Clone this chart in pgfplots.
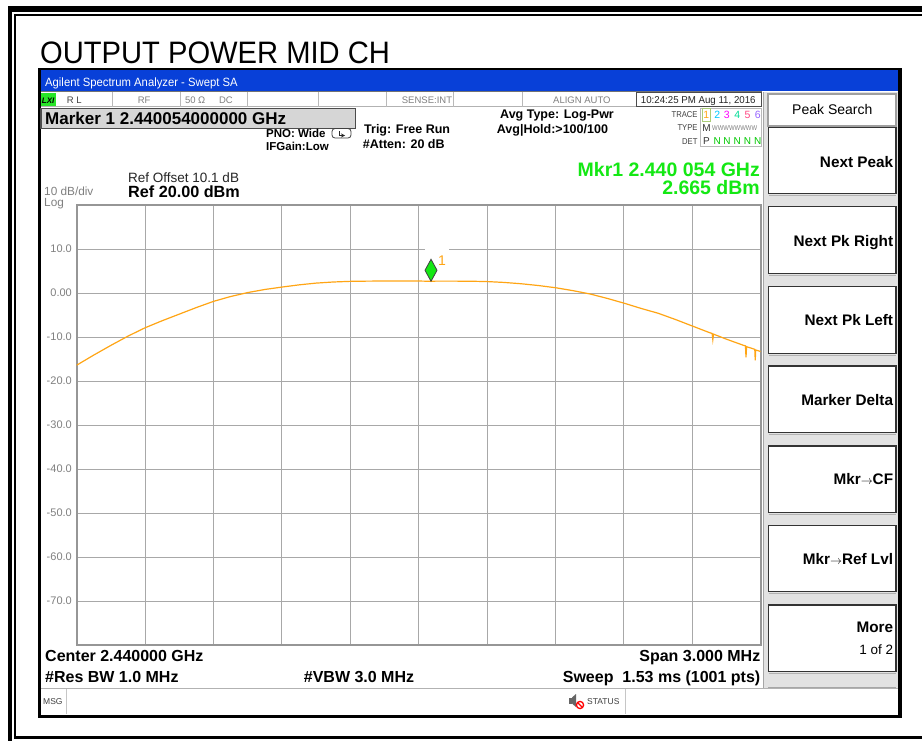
\documentclass[border=0pt]{standalone}
\usepackage{pgfplots}
\pgfplotsset{compat=1.18}
\usepackage{fontspec}
\setmainfont{Liberation Sans}
\newcommand\fs[1]{\fontsize{#1bp}{#1bp}\selectfont}
\definecolor{trace}{RGB}{255,165,20}
\definecolor{mkrgreen}{RGB}{20,232,20}
\definecolor{tickgray}{RGB}{128,128,128}
\definecolor{gridgray}{RGB}{168,168,168}
\definecolor{framegray}{RGB}{150,150,150}
\definecolor{xpA}{RGB}{8,64,216}
\definecolor{panelgray}{RGB}{226,226,226}
\definecolor{boxgray}{RGB}{214,214,214}
\definecolor{lxigreen}{RGB}{40,230,40}
\definecolor{tr1box}{RGB}{170,205,120}
\definecolor{tr2}{RGB}{0,200,255}
\definecolor{tr3}{RGB}{255,0,255}
\definecolor{tr4}{RGB}{0,220,150}
\definecolor{tr5}{RGB}{255,70,130}
\definecolor{tr6}{RGB}{150,100,255}
\definecolor{detgreen}{RGB}{0,200,0}
\begin{document}
\begin{tikzpicture}
\begin{scope}[x=1bp,y=-1bp]
\path[use as bounding box] (0,0) rectangle (922,741);
\fill[white] (0,0) rectangle (922,741);
% document frame
\fill[black] (8,6) rectangle (922,12);
\fill[black] (8,6) rectangle (12,741);
\fill[black] (14,14) rectangle (922,16);
\fill[black] (14,14) rectangle (16,739);
\fill[black] (14,736) rectangle (922,739);
% title
\node[anchor=base west, inner sep=0] at (40,64) {\fs{31}\scalebox{0.94}[1]{OUTPUT POWER MID CH}};
% window
\fill[black] (38,68) rectangle (902,718);
\fill[white] (41,70.5) rectangle (898,715);
\fill[xpA] (41,70.5) rectangle (898,91);
\node[anchor=base west, inner sep=0, text=white] at (45,87) {\fs{12}\scalebox{0.94}[1]{Agilent Spectrum Analyzer - Swept SA}};
% status row
\draw[black!55, line width=0.8] (41,91.8) -- (762,91.8);
\draw[gray!60, line width=0.8] (41,106.6) -- (762,106.6);
\foreach \xx in {112.6,180,247,318,386.3,453.3,522.7} {\draw[gray!55, line width=0.8] (\xx,92) -- (\xx,106.5);}
\draw[black!70, line width=0.8] (636,92.3) rectangle (761.7,106.3);
\fill[lxigreen] (41,92.5) rectangle (55.5,106);
\node[inner sep=0, anchor=base] at (48.2,103) {\fs{8}\bfseries\itshape LXI};
\node[anchor=base west, inner sep=0, text=black!75] at (66.8,103.4) {\fs{9.5}R L};
\node[anchor=base west, inner sep=0, text=gray] at (137.6,103.4) {\fs{9.5}RF};
\node[anchor=base west, inner sep=0, text=gray] at (184.8,103.4) {\fs{9.5}50 Ω};
\node[anchor=base west, inner sep=0, text=gray] at (218.8,103.4) {\fs{9.5}DC};
\node[anchor=base west, inner sep=0, text=gray] at (401.7,103.4) {\fs{9.5}SENSE:INT};
\node[anchor=base west, inner sep=0, text=gray] at (553,103.4) {\fs{9.5}ALIGN AUTO};
\node[anchor=base west, inner sep=0, text=black!85] at (640.7,103.4) {\fs{10}\scalebox{0.97}[1]{10:24:25 PM Aug 11, 2016}};
% header
\draw[fill=boxgray, draw=black!70, line width=1.2] (41,108.3) rectangle (355.6,128.3);
\node[anchor=base west, inner sep=0] at (45,124.2) {\fs{17}\bfseries Marker 1 2.440054000000 GHz};
\node[anchor=base west, inner sep=0] at (266,137.2) {\fs{11.5}\bfseries PNO: Wide};
\node[anchor=base west, inner sep=0] at (266,150.6) {\fs{11.5}\bfseries IFGain:Low};
\draw[black!75, line width=0.8, rounded corners=3] (332,128.5) rectangle (351,138);
\draw[black!85, line width=0.8, ->, >=stealth] (339,131) -- (339,135.5) -- (345,135.5);
\node[anchor=base west, inner sep=0] at (364,133.8) {\fs{12.5}\bfseries Trig: Free Run};
\node[anchor=base west, inner sep=0] at (362.7,148.2) {\fs{12.5}\bfseries \#Atten: 20 dB};
\node[anchor=base west, inner sep=0] at (500,118.8) {\fs{12.5}\bfseries Avg Type: Log-Pwr};
\node[anchor=base west, inner sep=0] at (496.7,133.5) {\fs{12.5}\bfseries Avg|Hold:>100/100};
% trace table
\draw[gray!55, line width=0.8] (700.7,108) rectangle (761.7,146);
\draw[tr1box, line width=0.8] (702,108.8) rectangle (710.5,121.5);
\node[anchor=base east, inner sep=0, text=black!75] at (697.7,117.5) {\fs{8.5}\scalebox{0.9}[1]{TRACE}};
\node[anchor=base east, inner sep=0, text=black!75] at (697.7,130.8) {\fs{8.5}\scalebox{0.9}[1]{TYPE}};
\node[anchor=base east, inner sep=0, text=black!75] at (697.7,144) {\fs{8.5}\scalebox{0.9}[1]{DET}};
\node[anchor=base, inner sep=0, text=trace] at (706.2,118.5) {\fs{10.5}1};
\node[anchor=base, inner sep=0, text=tr2] at (717.3,118.5) {\fs{10.5}2};
\node[anchor=base, inner sep=0, text=tr3] at (726.9,118.5) {\fs{10.5}3};
\node[anchor=base, inner sep=0, text=tr4] at (737.3,118.5) {\fs{10.5}4};
\node[anchor=base, inner sep=0, text=tr5] at (747.5,118.5) {\fs{10.5}5};
\node[anchor=base, inner sep=0, text=tr6] at (757.7,118.5) {\fs{10.5}6};
\node[anchor=base, inner sep=0, text=black!80] at (706.5,131.5) {\fs{10}M};
\node[anchor=base west, inner sep=0, text=gray] at (712,130.5) {\fs{7}\scalebox{0.85}[1]{WWWWWWWW}};
\node[anchor=base, inner sep=0, text=black!80] at (706.5,144.5) {\fs{10}P};
\foreach \xx in {717.3,726.9,737.3,747.5,757.7} {\node[anchor=base, inner sep=0, text=detgreen] at (\xx,144.5) {\fs{10}N};}
% marker readout
\node[anchor=base east, inner sep=0, text=mkrgreen] at (760,176) {\fs{19.5}\bfseries Mkr1 2.440 054 GHz};
\node[anchor=base east, inner sep=0, text=mkrgreen] at (760,194.5) {\fs{19.5}\bfseries 2.665 dBm};
\node[anchor=base west, inner sep=0, text=black!85] at (128,182) {\fs{13.5}Ref Offset 10.1 dB};
\node[anchor=base west, inner sep=0] at (128,197.4) {\fs{16.2}\bfseries Ref 20.00 dBm};
\node[anchor=base west, inner sep=0, text=tickgray] at (44,195.3) {\fs{11.8}10 dB/div};
\node[anchor=base west, inner sep=0, text=tickgray] at (44,206.6) {\fs{11.8}Log};
% bottom annotations
\node[anchor=base west, inner sep=0] at (45,661.7) {\fs{16}\bfseries Center 2.440000 GHz};
\node[anchor=base east, inner sep=0] at (760.5,661.7) {\fs{16}\bfseries Span 3.000 MHz};
\node[anchor=base west, inner sep=0] at (45,682.7) {\fs{16}\bfseries \#Res BW 1.0 MHz};
\node[anchor=base west, inner sep=0] at (303.7,682.7) {\fs{16}\bfseries \#VBW 3.0 MHz};
\node[anchor=base east, inner sep=0] at (760.5,682.7) {\fs{16}\bfseries Sweep\ \ 1.53 ms (1001 pts)};
% message row
\draw[gray!60, line width=0.8] (41,688.5) -- (898,688.5);
\draw[gray!45, line width=0.8] (66.7,689) -- (66.7,714);
\draw[gray!45, line width=0.8] (625.6,689) -- (625.6,714);
\node[anchor=base west, inner sep=0, text=black!75] at (43,704) {\fs{8.5}MSG};
\node[anchor=base west, inner sep=0, text=black!75] at (587,704) {\fs{8.5}STATUS};
\fill[black!60] (569,697.5) rectangle (572,703.5);
\fill[black!60] (572,697.5) -- (576,694) -- (576,707) -- (572,703.5) -- cycle;
\draw[red, line width=1.3] (580,705) circle (3.6);
\draw[red, line width=1.3] (577.5,702.5) -- (582.5,707.5);
% softkey panel
\fill[panelgray] (763,92) rectangle (898,688);
\draw[gray!70, line width=1] (763.5,92) -- (763.5,688);
\draw[fill=white, draw=gray!75, line width=1.2] (768,94) rectangle (896,126);
\node[anchor=base, inner sep=0] at (832.3,114.3) {\fs{14}Peak Search};
\foreach \yy in {127.3,206.7,286.7,366,446,525.3,605} {
  \draw[fill=white, draw=black!80, line width=1.3] (768.5,\yy) rectangle (896,\yy+66.5);
  \draw[gray!60, line width=0.8] (768.5,\yy+68.5) -- (896,\yy+68.5);
}
\draw[gray!70, line width=1] (768,687) -- (896,687);
\node[anchor=base east, inner sep=0] at (893.3,167.2) {\fs{15.3}\bfseries Next Peak};
\node[anchor=base east, inner sep=0] at (893.3,246.2) {\fs{15.3}\bfseries Next Pk Right};
\node[anchor=base east, inner sep=0] at (893.3,325.5) {\fs{15.3}\bfseries Next Pk Left};
\node[anchor=base east, inner sep=0] at (893.3,405.5) {\fs{15.3}\bfseries Marker Delta};
\node[anchor=base east, inner sep=0] at (893.3,484.8) {\fs{15.3}\bfseries Mkr{\fs{13}$\rightarrow$}CF};
\node[anchor=base east, inner sep=0] at (893.3,564.8) {\fs{15.3}\bfseries Mkr{\fs{13}$\rightarrow$}Ref Lvl};
\node[anchor=base east, inner sep=0] at (893.3,632.8) {\fs{15.3}\bfseries More};
\node[anchor=base east, inner sep=0] at (893.3,654.1) {\fs{13.5}1 of 2};
\end{scope}
\begin{axis}[
  at={(76.7bp,-205bp)}, anchor=north west,
  scale only axis, width=684bp, height=440bp,
  xmin=-1.5, xmax=1.5, ymin=-80, ymax=20,
  xtick={-1.5,-1.2,-0.9,-0.6,-0.3,0,0.3,0.6,0.9,1.2,1.5},
  xticklabels={},
  ytick={-70,-60,-50,-40,-30,-20,-10,0,10},
  yticklabels={-70.0,-60.0,-50.0,-40.0,-30.0,-20.0,-10.0,0.00,10.0},
  /pgf/number format/assume math mode=true,
  grid=major,
  grid style={draw=gridgray, line width=1bp},
  axis line style={draw=framegray, line width=2bp},
  major tick length=0pt,
  yticklabel style={font=\fs{11}, text=tickgray, inner sep=0pt, anchor=east, xshift=-4.7bp},
]
\addplot[draw=trace, line width=1.2bp] coordinates {
(-1.500,-16.4) (-1.425,-14.1) (-1.350,-11.9) (-1.275,-9.8) (-1.200,-7.9)
(-1.125,-6.3) (-1.050,-4.8) (-0.975,-3.3) (-0.900,-1.9) (-0.825,-0.8)
(-0.750,0.1) (-0.675,0.8) (-0.600,1.35) (-0.525,1.85) (-0.450,2.25)
(-0.375,2.5) (-0.300,2.65) (-0.225,2.7) (-0.150,2.72) (-0.075,2.74)
(0.000,2.72) (0.054,2.665) (0.075,2.7) (0.150,2.7) (0.225,2.68)
(0.300,2.6) (0.375,2.4) (0.450,2.1) (0.525,1.7) (0.600,1.2)
(0.675,0.55) (0.750,-0.2) (0.825,-1.2) (0.900,-2.3) (0.975,-3.5)
(1.050,-4.6) (1.125,-6.0) (1.200,-7.5) (1.275,-9.0)
(1.287,-9.2) (1.290,-10.6) (1.293,-9.35)
(1.350,-10.5) (1.425,-11.9)
(1.433,-12.0) (1.4355,-14.6) (1.438,-12.2)
(1.474,-12.8) (1.476,-15.3) (1.478,-12.95)
(1.500,-13.3)
};
\addplot[only marks, mark=diamond*, mark size=11bp,
  mark options={xscale=0.73, yshift=11bp, fill=mkrgreen, draw=black!75, line width=0.8bp}]
  coordinates {(0.054,2.665)};
\fill[white] (axis cs:0.0276,9.3) rectangle (axis cs:0.133,10.5);
\node[anchor=base west, inner sep=0, text=trace] at (axis cs:0.0846,6.27) {\fs{14}1};
\end{axis}
\end{tikzpicture}
\end{document}
